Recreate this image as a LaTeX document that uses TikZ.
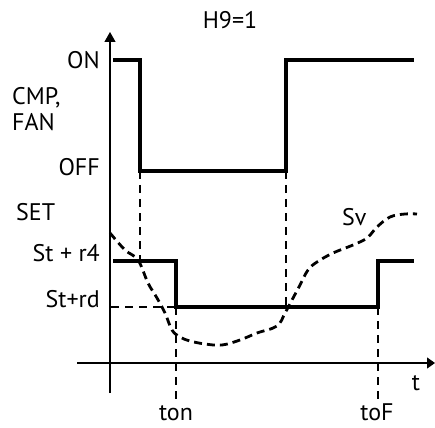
\documentclass[tikz,border=0pt]{standalone}
\usepackage{fontspec}
\setmainfont{PT Sans}
\usetikzlibrary{arrows.meta}
\newcommand{\lblfont}{\fontsize{24pt}{28pt}\selectfont}
\begin{document}
\begin{tikzpicture}[x=1pt,y=-1pt,
  lbl/.style={font=\lblfont, inner sep=0pt},
  axisline/.style={line width=1.2pt},
  sigline/.style={line width=4.5pt, line join=miter},
  guide/.style={line width=1.2pt, dash pattern=on 8pt off 6pt},
  svline/.style={line width=2.8pt, dash pattern=on 8pt off 5pt}]
\useasboundingbox (0,0) rectangle (435,427);
% guides
\coordinate (g1a) at (140,171); \coordinate (g1b) at (140,261);
\coordinate (g2a) at (286,171); \coordinate (g2b) at (286,307);
\coordinate (g3a) at (111,307); \coordinate (g3b) at (176,307);
\coordinate (g4b) at (176,404);
\coordinate (g5a) at (378,307); \coordinate (g5b) at (378,404);
\draw[guide] (g1a) -- (g1b);
\draw[guide] (g2a) -- (g2b);
\draw[guide] (g3a) -- (g3b);
\draw[guide] (g3b) -- (g4b);
\draw[guide] (g5a) -- (g5b);
% axes
\coordinate (ya) at (110,393); \coordinate (yb) at (110,32);
\coordinate (xa) at (77,363); \coordinate (xb) at (435,363);
\draw[axisline,-{Triangle[width=11pt,length=10pt]}] (ya) -- (yb);
\draw[axisline,-{Triangle[width=11pt,length=8pt]}] (xa) -- (xb);
% signals
\draw[sigline] (113,60) -- (140,60) -- (140,171) -- (286,171) -- (286,60) -- (414,60);
\draw[sigline] (113,261) -- (176,261) -- (176,307) -- (378,307) -- (378,261) -- (414,261);
% Sv curve
\draw[svline] plot[smooth, tension=0.6] coordinates {
  (110,233) (125,250) (138,260) (148,283) (157,298) (165,313) (172,330)
  (180,337) (190,341) (205,344) (222,345) (240,340) (257,333) (277,326)
  (285,313) (292,300) (300,285) (308,270) (317,262) (333,253) (353,245)
  (367,238) (377,227) (390,217) (405,214) (417,214)};
% labels
\node[lbl, anchor=base] (h9) at (230,29) {H9=1};
\node[lbl, anchor=base east] (on) at (100,69) {ON};
\node[lbl, anchor=base west] (cmp) at (12,105) {CMP,};
\node[lbl, anchor=base west] (fan) at (12,131) {FAN};
\node[lbl, anchor=base east] (off) at (100,176) {OFF};
\node[lbl, anchor=base west] (set) at (16,220) {SET};
\node[lbl, anchor=base east] (r4) at (100,261) {St + r4};
\node[lbl, anchor=base east] (rd) at (100,307) {St+rd};
\node[lbl, anchor=base] (ton) at (176,420) {ton};
\node[lbl, anchor=base] (tof) at (377,420) {toF};
\node[lbl, anchor=base] (t) at (416,390) {t};
\node[lbl, anchor=base west] (sv) at (342,225) {Sv};
\end{tikzpicture}
\end{document}
